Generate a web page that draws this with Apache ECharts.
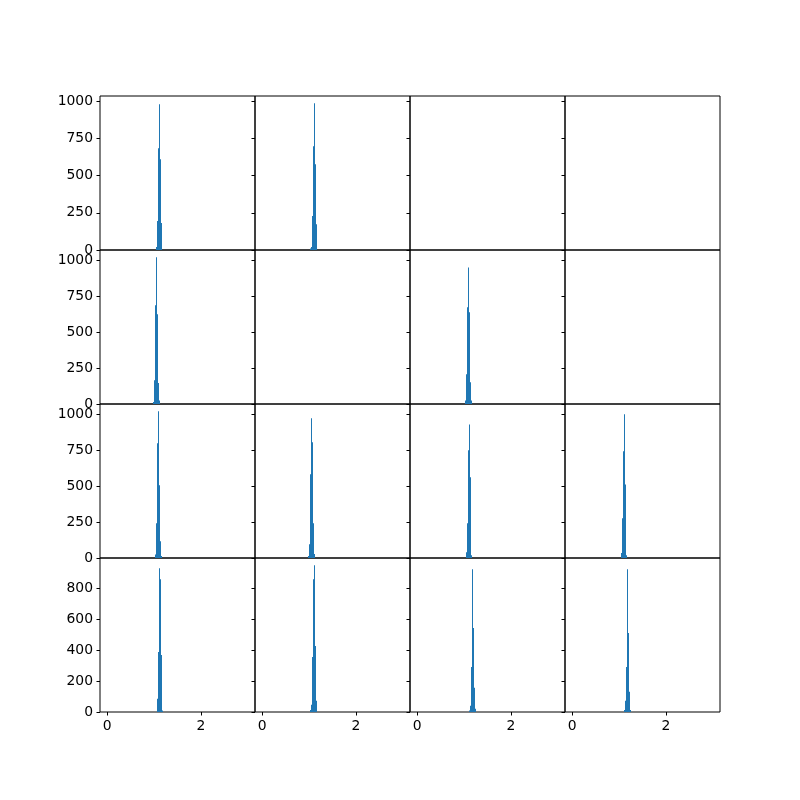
<!DOCTYPE html>
<html>
<head>
<meta charset="utf-8">
<script src="https://cdn.jsdelivr.net/npm/echarts@6/dist/echarts.min.js"></script>
<style>html,body{margin:0;padding:0;background:#fff}#c{width:800px;height:800px}</style>
</head>
<body>
<div id="c"></div>
<script>
// ---- data ----
const binWidth = 0.0214;             // histogram bin width (x units)
const xRange = [0, 3];               // shared x data range
const xTicks = [0, 2];
const yTicksRow = [
  [0, 250, 500, 750, 1000],
  [0, 250, 500, 750, 1000],
  [0, 250, 500, 750, 1000],
  [0, 200, 400, 600, 800]
];
const panelRow = [0, 0, 1, 1, 2, 2, 2, 2, 3, 3, 3, 3];
const panelCol = [0, 1, 0, 2, 0, 1, 2, 3, 0, 1, 2, 3];
const panelStart = [1.032, 1.011, 0.968, 1.011, 1.011, 0.968, 1.032, 1.032, 1.053, 1.011, 1.096, 1.096];
const panelCounts = [
  [20, 195, 685, 980, 611, 181],
  [10, 20, 228, 698, 987, 577, 174],
  [14, 165, 688, 1022, 625, 146, 25],
  [25, 207, 674, 952, 639, 151, 25],
  [25, 242, 799, 1022, 507, 116, 14],
  [14, 95, 583, 973, 806, 242, 28],
  [40, 242, 750, 931, 562, 20],
  [35, 277, 743, 1001, 513, 20],
  [86, 389, 931, 860, 370, 9],
  [13, 47, 357, 860, 950, 428, 73],
  [10, 41, 292, 925, 544, 157, 21],
  [13, 73, 292, 925, 512, 131, 13]
];

// ---- layout ----
const nRows = 4, nCols = 4;
const L = 100, T = 96, W = 620, H = 616;
const cw = W / nCols, ch = H / nRows;
const FONT = 'DejaVu Sans';
const FS = 13.9;

const rowMax = [0, 0, 0, 0];
panelCounts.forEach((c, i) => {
  rowMax[panelRow[i]] = Math.max(rowMax[panelRow[i]], Math.max(...c));
});
const xMargin = (xRange[1] - xRange[0]) * 0.05;
const fmt = v => String(v);

const grid = [], xAxis = [], yAxis = [], series = [];
let gi = 0;
const gridIndex = {};
for (let r = 0; r < nRows; r++) {
  for (let c = 0; c < nCols; c++) {
    gridIndex[r + '_' + c] = gi;
    grid.push({
      left: L + c * cw, top: T + r * ch, width: cw, height: ch,
      show: true, borderColor: '#000', borderWidth: 1, backgroundColor: 'transparent',
      containLabel: false
    });
    const bottom = r === nRows - 1, left = c === 0;
    xAxis.push({
      type: 'value', gridIndex: gi, position: 'bottom',
      min: xRange[0] - xMargin, max: xRange[1] + xMargin,
      splitLine: { show: false },
      axisLine: { show: false, onZero: false },
      axisTick: { show: bottom, inside: false, length: 3.5, lineStyle: { color: '#000', width: 1 }, customValues: xTicks },
      axisLabel: { show: bottom, customValues: xTicks, formatter: fmt, color: '#000', fontFamily: FONT, fontSize: FS, margin: 7,
                   showMinLabel: true, showMaxLabel: true }
    });
    yAxis.push({
      type: 'value', gridIndex: gi, position: 'left',
      min: 0, max: rowMax[r] * 1.05,
      splitLine: { show: false },
      axisLine: { show: false, onZero: false },
      axisTick: { show: true, inside: false, length: 3.5, lineStyle: { color: '#000', width: 1 }, customValues: yTicksRow[r] },
      axisLabel: { show: left, customValues: yTicksRow[r], formatter: fmt, color: '#000', fontFamily: FONT, fontSize: FS, margin: 7,
                   showMinLabel: true, showMaxLabel: true }
    });
    gi++;
  }
}

panelCounts.forEach((counts, i) => {
  const g = gridIndex[panelRow[i] + '_' + panelCol[i]];
  const data = counts.map((v, k) => [panelStart[i] + k * binWidth, binWidth, v]);
  series.push({
    type: 'custom', xAxisIndex: g, yAxisIndex: g,
    data: data, silent: true, animation: false,
    renderItem: function (params, api) {
      const x0 = api.value(0), w = api.value(1), v = api.value(2);
      const p1 = api.coord([x0, v]);
      const p2 = api.coord([x0 + w, 0]);
      const xa = Math.round(p1[0]);
      const xb = Math.max(xa + 1, Math.round(p2[0]));
      return {
        type: 'rect',
        shape: { x: xa, y: p1[1], width: xb - xa, height: p2[1] - p1[1] },
        style: { fill: '#1f77b4' }
      };
    }
  });
});

const chart = echarts.init(document.getElementById('c'), null, { renderer: 'canvas' });
chart.setOption({ animation: false, backgroundColor: '#fff', grid, xAxis, yAxis, series });
</script>
</body>
</html>
